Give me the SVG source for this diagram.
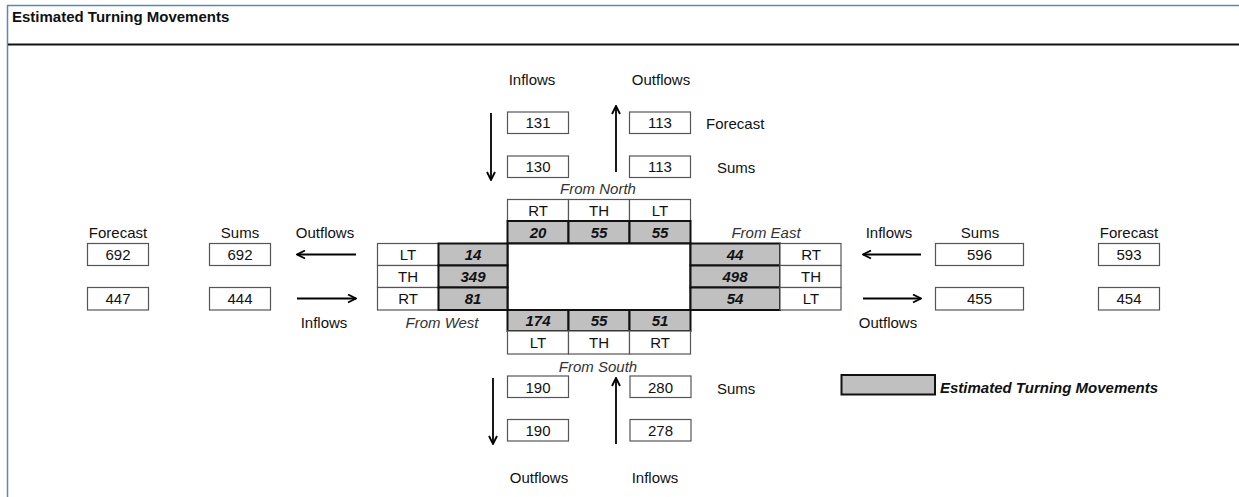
<svg xmlns="http://www.w3.org/2000/svg" width="1239" height="497" viewBox="0 0 1239 497">
<style>
text{font-family:"Liberation Sans",Arial,sans-serif;font-size:15px;fill:#111}
.c{text-anchor:middle}
.it{font-style:italic;fill:#333}
.v{font-weight:bold;font-style:italic;text-anchor:middle}
.box{fill:#fff;stroke:#555;stroke-width:1.2}
.g{fill:#c0c0c0;stroke:#111;stroke-width:2}
.a{stroke:#000;stroke-width:1.8;fill:none;marker-end:url(#ah)}
</style>
<defs>
<marker id="ah" viewBox="0 0 10 10" refX="9" refY="5" markerWidth="10" markerHeight="10" markerUnits="userSpaceOnUse" orient="auto">
<path d="M1,1 L9,5 L1,9" fill="none" stroke="#000" stroke-width="1.8"/>
</marker>
</defs>
<rect width="1239" height="497" fill="#fff"/>
<g id="frame">
<line x1="7" y1="5.5" x2="1239" y2="5.5" stroke="#5a88b8" stroke-width="1.5"/>
<line x1="7.5" y1="5" x2="7.5" y2="497" stroke="#5a88b8" stroke-width="1.5"/>
<line x1="8" y1="44.5" x2="1239" y2="44.5" stroke="#111" stroke-width="2"/>
<text x="12" y="22" style="font-weight:bold">Estimated Turning Movements</text>
</g>
<g id="connectors">
<line class="a" x1="491" y1="113" x2="491" y2="180"/>
<line class="a" x1="616" y1="172" x2="616" y2="106"/>
<line class="a" x1="356" y1="254.5" x2="297" y2="254.5"/>
<line class="a" x1="297" y1="298.5" x2="356" y2="298.5"/>
<line class="a" x1="921" y1="254.5" x2="863" y2="254.5"/>
<line class="a" x1="863" y1="298.5" x2="921" y2="298.5"/>
<line class="a" x1="493" y1="378" x2="493" y2="444"/>
<line class="a" x1="616" y1="444" x2="616" y2="378"/>
</g>
<g id="north">
<text class="c" x="532" y="85">Inflows</text>
<text class="c" x="661" y="85">Outflows</text>
<rect class="box" x="507.5" y="112" width="61" height="21.5"/><text class="c" x="538" y="128">131</text>
<rect class="box" x="629.5" y="112" width="61" height="21.5"/><text class="c" x="660" y="128">113</text>
<text x="706" y="129">Forecast</text>
<rect class="box" x="507.5" y="156" width="61" height="21.5"/><text class="c" x="538" y="172">130</text>
<rect class="box" x="629.5" y="156" width="61" height="21.5"/><text class="c" x="660" y="172">113</text>
<text x="717" y="172.5">Sums</text>
<text class="c it" x="598" y="194">From North</text>
<rect class="box" x="507.5" y="199.5" width="61" height="21.5"/><text class="c" x="538" y="216">RT</text>
<rect class="box" x="568.5" y="199.5" width="61" height="21.5"/><text class="c" x="599" y="216">TH</text>
<rect class="box" x="629.5" y="199.5" width="61" height="21.5"/><text class="c" x="660" y="216">LT</text>
<rect class="g" x="507.5" y="221" width="61" height="22.5"/><text class="v" x="538" y="237.5">20</text>
<rect class="g" x="568.5" y="221" width="61" height="22.5"/><text class="v" x="599" y="237.5">55</text>
<rect class="g" x="629.5" y="221" width="61" height="22.5"/><text class="v" x="660" y="237.5">55</text>
</g>
<g id="center">
<rect x="507.5" y="243.5" width="183" height="66.5" fill="#fff" stroke="#111" stroke-width="2"/>
</g>
<g id="west">
<text class="c it" x="442" y="327.5">From West</text>
<rect class="box" x="377.5" y="243.5" width="61" height="22"/><text class="c" x="408" y="260">LT</text>
<rect class="box" x="377.5" y="265.5" width="61" height="22"/><text class="c" x="408" y="282">TH</text>
<rect class="box" x="377.5" y="287.5" width="61" height="22.5"/><text class="c" x="408" y="304">RT</text>
<rect class="g" x="438.5" y="243.5" width="69" height="22"/><text class="v" x="473" y="260">14</text>
<rect class="g" x="438.5" y="265.5" width="69" height="22"/><text class="v" x="473" y="282">349</text>
<rect class="g" x="438.5" y="287.5" width="69" height="22.5"/><text class="v" x="473" y="304">81</text>
</g>
<g id="east">
<text class="c it" x="766" y="237.5">From East</text>
<rect class="g" x="690.5" y="243.5" width="89.5" height="22"/><text class="v" x="735" y="260">44</text>
<rect class="g" x="690.5" y="265.5" width="89.5" height="22"/><text class="v" x="735" y="282">498</text>
<rect class="g" x="690.5" y="287.5" width="89.5" height="22.5"/><text class="v" x="735" y="304">54</text>
<rect class="box" x="780" y="243.5" width="61" height="22"/><text class="c" x="811" y="260">RT</text>
<rect class="box" x="780" y="265.5" width="61" height="22"/><text class="c" x="811" y="282">TH</text>
<rect class="box" x="780" y="287.5" width="61" height="22.5"/><text class="c" x="811" y="304">LT</text>
</g>
<g id="south">
<rect class="g" x="507.5" y="310" width="61" height="21"/><text class="v" x="538" y="326">174</text>
<rect class="g" x="568.5" y="310" width="61" height="21"/><text class="v" x="599" y="326">55</text>
<rect class="g" x="629.5" y="310" width="61" height="21"/><text class="v" x="660" y="326">51</text>
<rect class="box" x="507.5" y="331" width="61" height="23"/><text class="c" x="538" y="348">LT</text>
<rect class="box" x="568.5" y="331" width="61" height="23"/><text class="c" x="599" y="348">TH</text>
<rect class="box" x="629.5" y="331" width="61" height="23"/><text class="c" x="660" y="348">RT</text>
<text class="c it" x="598" y="371.5">From South</text>
<rect class="box" x="507.5" y="376" width="61" height="21.5"/><text class="c" x="538" y="392.5">190</text>
<rect class="box" x="630" y="376" width="61" height="21.5"/><text class="c" x="660.5" y="392.5">280</text>
<text x="717" y="393.5">Sums</text>
<rect class="box" x="507.5" y="419.5" width="61" height="21.5"/><text class="c" x="538" y="436">190</text>
<rect class="box" x="630" y="419.5" width="61" height="21.5"/><text class="c" x="660.5" y="436">278</text>
<text class="c" x="539" y="482.5">Outflows</text>
<text class="c" x="655" y="482.5">Inflows</text>
</g>
<g id="left">
<text class="c" x="118" y="237.5">Forecast</text>
<text class="c" x="240" y="237.5">Sums</text>
<text class="c" x="325" y="237.5">Outflows</text>
<rect class="box" x="87.5" y="243.5" width="61" height="22"/><text class="c" x="118" y="260">692</text>
<rect class="box" x="209.5" y="243.5" width="61" height="22"/><text class="c" x="240" y="260">692</text>
<rect class="box" x="87.5" y="287.5" width="61" height="22.5"/><text class="c" x="118" y="304">447</text>
<rect class="box" x="209.5" y="287.5" width="61" height="22.5"/><text class="c" x="240" y="304">444</text>
<text class="c" x="324" y="327.5">Inflows</text>
</g>
<g id="right">
<text class="c" x="889" y="237.5">Inflows</text>
<text class="c" x="980" y="237.5">Sums</text>
<text class="c" x="1129" y="237.5">Forecast</text>
<rect class="box" x="935.5" y="243.5" width="88" height="22"/><text class="c" x="979.5" y="260">596</text>
<rect class="box" x="1098.5" y="243.5" width="61" height="22"/><text class="c" x="1129" y="260">593</text>
<rect class="box" x="935.5" y="287.5" width="88" height="22.5"/><text class="c" x="979.5" y="304">455</text>
<rect class="box" x="1098.5" y="287.5" width="61" height="22.5"/><text class="c" x="1129" y="304">454</text>
<text class="c" x="888" y="327.5">Outflows</text>
</g>
<g id="legend">
<rect class="g" x="841.5" y="375" width="93.5" height="19.5"/>
<text x="940" y="393" style="font-weight:bold;font-style:italic">Estimated Turning Movements</text>
</g>
</svg>
